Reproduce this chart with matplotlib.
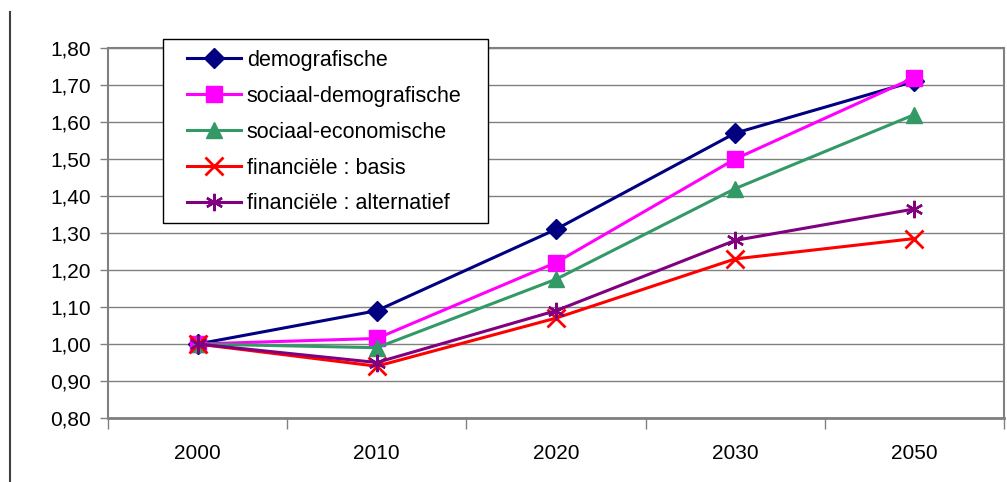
import matplotlib
matplotlib.use("Agg")
import matplotlib.pyplot as plt
from matplotlib.lines import Line2D
from matplotlib.patches import Rectangle

plt.rcParams['font.family'] = ['Liberation Sans', 'DejaVu Sans']

years = ["2000", "2010", "2020", "2030", "2050"]
demografische = [1.00, 1.09, 1.31, 1.57, 1.71]
sociaal_demografische = [1.00, 1.015, 1.22, 1.50, 1.72]
sociaal_economische = [1.00, 0.99, 1.175, 1.42, 1.62]
financiele_basis = [1.00, 0.94, 1.07, 1.23, 1.285]
financiele_alternatief = [1.00, 0.95, 1.09, 1.28, 1.365]
yticks = [0.80, 0.90, 1.00, 1.10, 1.20, 1.30, 1.40, 1.50, 1.60, 1.70, 1.80]

series = [
    ("demografische", demografische, "#000080", "D", 10.5, 1),
    ("sociaal-demografische", sociaal_demografische, "#FF00FF", "s", 11, 1),
    ("sociaal-economische", sociaal_economische, "#339966", "^", 11.5, 1),
    ("financiële : basis", financiele_basis, "#FF0000", "x", 13, 2),
    ("financiële : alternatief", financiele_alternatief, "#800080", (6, 2, 0), 12.5, 1.7),
]

fig = plt.figure(figsize=(10.07, 4.82), dpi=100)
W, H = 1007, 482
AX_L, AX_R, AX_T, AX_B = 108, 1004, 48, 418
ax = fig.add_axes([AX_L / W, (H - AX_B) / H, (AX_R - AX_L) / W, (AX_B - AX_T) / H])

def ax_frac(px, py):
    return (px - AX_L) / (AX_R - AX_L), (AX_B - py) / (AX_B - AX_T)

x = list(range(len(years)))
for label, vals, color, marker, ms, mew in series:
    ax.plot(x, vals, color=color, lw=2.2, marker=marker, ms=ms, mew=mew,
            mec=color, mfc=color, label=label, clip_on=False, zorder=3)

ax.set_xlim(-0.5, len(years) - 0.5)
ax.set_ylim(0.80, 1.80)
ax.set_yticks(yticks)
ax.set_yticklabels([f"{v:.2f}".replace(".", ",") for v in yticks])
ax.set_xticks(x)
ax.set_xticklabels(years)
ax.set_xticks([i + 0.5 for i in range(-1, len(years))], minor=True)
ax.tick_params(axis='x', which='major', length=0, pad=19, labelsize=15)
ax.tick_params(axis='x', which='minor', length=8, width=1, color='#808080', direction='out')
ax.tick_params(axis='y', length=6, width=1, color='#808080', direction='out', pad=6, labelsize=15)

ax.yaxis.grid(True, color='#808080', lw=1)
ax.set_axisbelow(True)
for s in ['left', 'bottom', 'right', 'top']:
    ax.spines[s].set_color('#808080')
    ax.spines[s].set_linewidth(1.5)
ax.spines['bottom'].set_linewidth(2)

# legend frame
x0, y1 = ax_frac(163, 39)
x1, y0 = ax_frac(488, 223)
ax.add_patch(Rectangle((x0, y0), x1 - x0, y1 - y0, transform=ax.transAxes,
                       facecolor='white', edgecolor='black', lw=1, zorder=4,
                       clip_on=False))

lx, ly = ax_frac(187, 50)
leg = ax.legend(loc='upper left', bbox_to_anchor=(lx, ly),
                frameon=False, fontsize=15.5,
                handlelength=2.5, labelspacing=0.69, borderpad=0,
                handletextpad=0.28, borderaxespad=0)
leg.set_zorder(5)

fig.add_artist(Line2D([10 / W, 10 / W], [0, 1 - 12 / H], color='#404040', lw=1.5,
                      transform=fig.transFigure))

fig.savefig("out.png", dpi=100)
